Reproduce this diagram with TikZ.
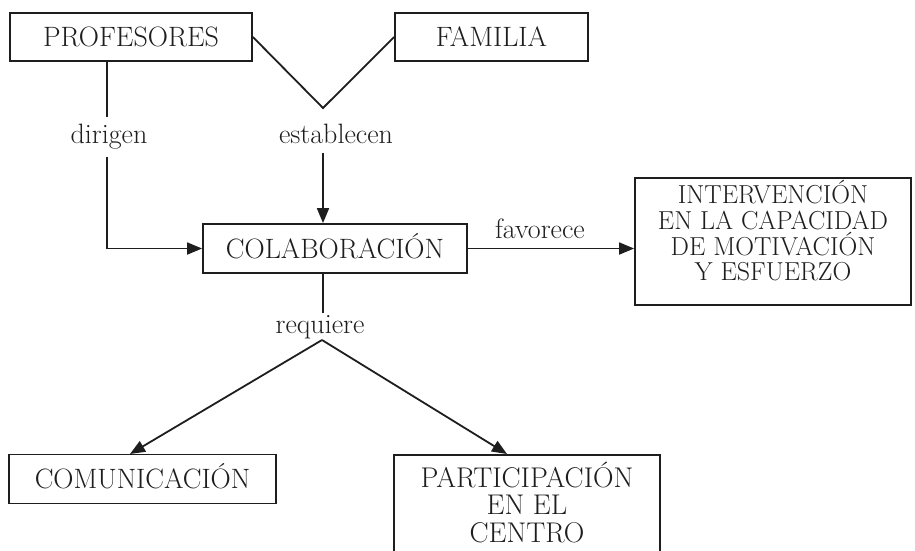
\documentclass[tikz,border=0pt]{standalone}
\usepackage{fontspec}
\usetikzlibrary{arrows.meta}
\definecolor{ink}{RGB}{30,30,30}
\newcommand\diagfont{\fontsize{28}{28}\selectfont}
\newcommand\intfont{\fontsize{26}{25.7}\selectfont}
\newcommand\partfont{\fontsize{28.5}{27.5}\selectfont}
\begin{document}
\begin{tikzpicture}[x=1pt,y=-1pt,
  box/.style={draw=ink, line width=1.8pt, inner sep=0pt, minimum height=48pt,
              text height=19.1pt, text depth=0pt, font=\diagfont, text=ink},
  txt/.style={inner sep=0pt, align=center, text=ink},
  lbl/.style={inner sep=0pt, font=\diagfont, text=ink, anchor=base},
  conn/.style={draw=ink, line width=1.8pt},
  arr/.style={conn, -{Triangle[length=15pt,width=12pt]}}]
\useasboundingbox (0,0) rectangle (915,550);
\clip (0,0) rectangle (915,550);
\fill[white] (0,0) rectangle (915,550);

% boxes
\node[box, minimum width=242pt] (prof) at (131,37) {PROFESORES};
\node[box, minimum width=193pt] (fam) at (491.5,37) {FAMILIA};
\node[box, minimum width=264pt, minimum height=49pt] (colab) at (335,248.5) {COLABORACIÓN};
\node[box, minimum width=276pt, minimum height=127pt] (interv) at (773,241.5) {};
\node[txt, font=\intfont] (intervT) at (773,231) {INTERVENCIÓN\\EN LA CAPACIDAD\\DE MOTIVACIÓN\\Y ESFUERZO};
\node[box, minimum width=267pt, minimum height=49pt] (comu) at (142.5,479) {COMUNICACIÓN};
\node[box, minimum width=266pt, minimum height=160pt, anchor=north] (part) at (527,454) {};
\node[txt, font=\partfont] (partT) at (527,502) {PARTICIPACIÓN\\EN EL\\CENTRO};

% labels
\node[lbl] (dir) at (109,143) {dirigen};
\node[lbl] (est) at (336,143) {establecen};
\node[lbl] (fav) at (540,238) {favorece};
\node[lbl] (req) at (320,333) {requiere};

% helper coordinates
\coordinate (vtop) at (323,108);
\coordinate (d1) at (107,117);
\coordinate (d2) at (107,157);
\coordinate (e1) at (323,153);
\coordinate (r1) at (323,313);
\coordinate (vbot) at (322,340);
\coordinate (ctip) at (130,454);
\coordinate (ptip) at (507,454);

% connectors
\draw[conn] (prof.east) -- (vtop) -- (fam.west);
\draw[conn] (prof.south -| d1) -- (d1);
\draw[arr] (d2) |- (colab.west);
\draw[arr] (e1) -- (e1 |- colab.north);
\draw[arr] (colab.east) -- (colab.east -| interv.west);
\draw[conn] (r1 |- colab.south) -- (r1);
\draw[arr] (vbot) -- (ctip);
\draw[arr] (vbot) -- (ptip);
\end{tikzpicture}
\end{document}
